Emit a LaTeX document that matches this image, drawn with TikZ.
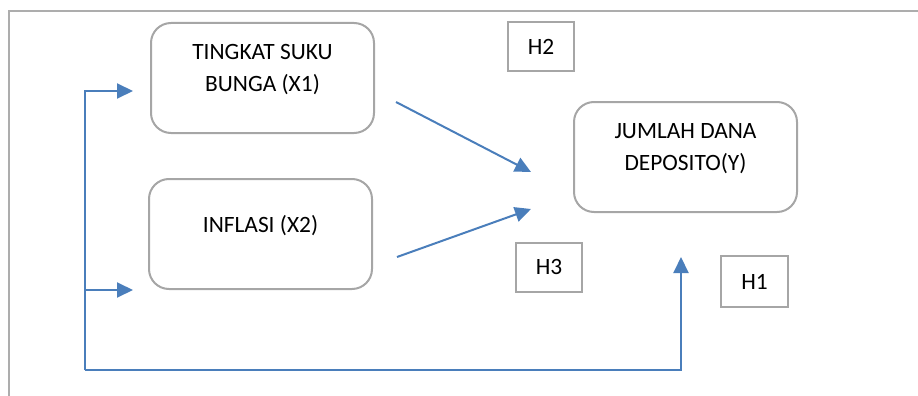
\documentclass[tikz,border=0pt]{standalone}
\usepackage{fontspec}
\setmainfont{Carlito}
\usepackage{tikz}
\usetikzlibrary{arrows.meta}
\definecolor{boxgray}{HTML}{A6A6A6}
\definecolor{framegray}{HTML}{ADADAD}
\definecolor{arrowblue}{HTML}{4A7EBB}
\tikzstyle{focus} = [rectangle, draw=boxgray, line width=2pt,
    rounded corners=20pt, minimum width=223pt, minimum height=110pt, inner sep=0pt]
\tikzstyle{focustext} = [align=center, yshift=8pt, font=\fontsize{23.4}{32}\selectfont]
\tikzstyle{hyp} = [rectangle, draw=boxgray, line width=2pt,
    minimum width=66pt, minimum height=49pt, font=\fontsize{23.4}{32}\selectfont]
\tikzstyle{line} = [draw=arrowblue, line width=2pt, -{Triangle[length=16pt,width=15pt]}]
\begin{document}
\begin{tikzpicture}[x=1pt,y=-1pt]
                \useasboundingbox (0,0) rectangle (918,396);
                \draw [framegray, line width=2.5pt] (918,11) -- (9,11) -- (9,396);
                \node [focus, label={[focustext]center:{TINGKAT SUKU\\BUNGA (X1)}}] at (262.5,78) (x1) {};
                \node [focus, label={[focustext]center:{INFLASI (X2)}}] at (260.5,234) (x2) {};
                \node [focus, label={[focustext]center:{JUMLAH DANA\\DEPOSITO(Y)}}] at (685.5,157) (y) {};
                \node [hyp] at (541,47) (h2) {H2};
                \node [hyp] at (549,267) (h3) {H3};
                \node [hyp, minimum width=67pt, minimum height=51pt] at (754.5,281.5) (h1) {H1};
                % ends of the connectors
                \coordinate (from1) at (396,102);
                \coordinate (to1) at (531,172);
                \coordinate (from2) at (397,257);
                \coordinate (to2) at (531,209);
                \coordinate (corner) at (85,370);
                \coordinate (in1) at (133,91);
                \coordinate (in2) at (133,290);
                \coordinate (up) at (681,257);
                \path [line] (from1) -- (to1);
                \path [line] (from2) -- (to2);
                \path [line] (corner) |- (in1);
                \path [line] (corner) |- (in2);
                \path [line] (corner) -| (up);
            \end{tikzpicture}
\end{document}
